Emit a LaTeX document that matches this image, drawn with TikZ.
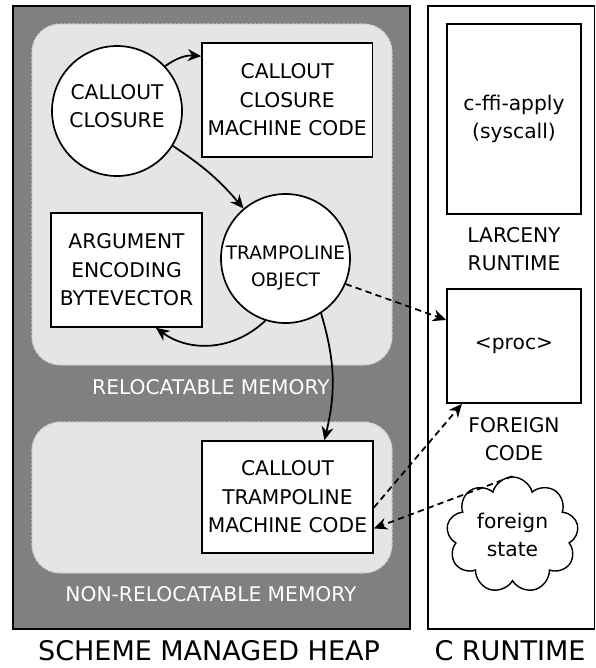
\documentclass[tikz,border=0pt]{standalone}
\usepackage{fontspec}
\setmainfont{DejaVu Sans}
\usetikzlibrary{shapes,arrows.meta,positioning,calc}
\newcommand{\memfont}{\fontsize{14.4}{20.3}\selectfont}
\newcommand{\bigfont}{\fontsize{19.2}{24}\selectfont}

\begin{document}
\begin{tikzpicture}[
    membox/.style={rectangle, draw=black, line width=1.2pt, fill=white, inner sep=0pt, align=center, font=\memfont},
    memcircle/.style={circle, draw=black, line width=1.2pt, fill=white, inner sep=0pt, minimum size=3.25cm},
    caption/.style={align=center, font=\memfont},
    region/.style={fill=black!10, draw=black!20, line width=0.8pt, dash pattern=on 2pt off 1pt, rounded corners=0.7cm},
    arrow/.style={->, line width=1.25pt, >={Stealth[length=9.5pt,width=8.5pt]}},
    dasharrow/.style={arrow, dash pattern=on 4.5pt off 3pt}
]
    \useasboundingbox (0,0) rectangle (14.9,-16.7);

    % Heap and C side
    \draw[fill=black!50, line width=1.2pt] (0.325,-0.15) rectangle (10.25,-15.725);
    \draw[fill=white, line width=1.2pt] (10.7,-0.15) rectangle (14.86,-15.725);
    \draw[region] (0.8,-0.6) rectangle (9.8,-9.125);
    \draw[region] (0.8,-10.55) rectangle (9.8,-14.325);

    \node[caption, text=white] (reloc) at (5.275,-9.675) {RELOCATABLE MEMORY};
    \node[caption, text=white] (nonreloc) at (5.275,-14.85) {NON-RELOCATABLE MEMORY};
    \node[font=\bigfont] (heaplabel) at (5.225,-16.26) {SCHEME MANAGED HEAP};
    \node[font=\bigfont] (crtlabel) at (12.75,-16.26) {C RUNTIME};

    % Scheme objects
    \node[memcircle] (closure) at (2.925,-2.775) {};
    \node[caption] (closuretext) at (2.925,-2.65) {CALLOUT\\CLOSURE};
    \node[membox, minimum width=4.26cm, minimum height=2.85cm] (closurecode) at (7.18,-2.5) {CALLOUT\\CLOSURE\\MACHINE CODE};
    \node[memcircle, minimum size=3.225cm] (tramp) at (7.1375,-6.4625) {};
    \node[caption, font=\fontsize{13.2}{19.8}\selectfont] (tramptext) at (7.1375,-6.7) {TRAMPOLINE\\OBJECT};
    \node[membox, minimum width=3.775cm, minimum height=2.85cm] (argbv) at (3.1625,-6.75) {ARGUMENT\\ENCODING\\BYTEVECTOR};
    \node[membox, minimum width=4.275cm, minimum height=2.8cm] (trampcode) at (7.1875,-12.425) {CALLOUT\\TRAMPOLINE\\MACHINE CODE};

    % C runtime
    \node[membox, minimum width=3.35cm, minimum height=4.75cm] (cffi) at (12.85,-2.975) {c-ffi-apply\\(syscall)};
    \node[caption] (larceny) at (12.85,-6.225) {LARCENY\\RUNTIME};
    \node[membox, minimum width=3.35cm, minimum height=2.85cm] (proc) at (12.85,-8.65) {<proc>};
    \node[caption] (foreign) at (12.85,-10.975) {FOREIGN\\CODE};
    \node[cloud, cloud puffs=9, aspect=1.1, draw=black, line width=1pt, fill=white, inner sep=0pt,
          minimum width=3.3cm, minimum height=2.9cm, align=center, font=\memfont] (fstate) at (12.8125,-13.375) {foreign\\state};

    \draw[arrow] (closure.43) to[bend left=20] (closurecode.153);
    \draw[arrow] (closure.-32) to[bend left=8] (tramp.130);
    \draw[arrow] (tramp.-108) to[bend left=40] (argbv.-63);
    \draw[arrow] (tramp.-57) to[bend left=15] (trampcode.57);
    \draw[dasharrow] (tramp.-23) -- (proc.159);
    \draw[dasharrow] (trampcode.-7) -- (proc.-132);
    \draw[dasharrow] (fstate.north) -- (trampcode.-20);
\end{tikzpicture}
\end{document}
